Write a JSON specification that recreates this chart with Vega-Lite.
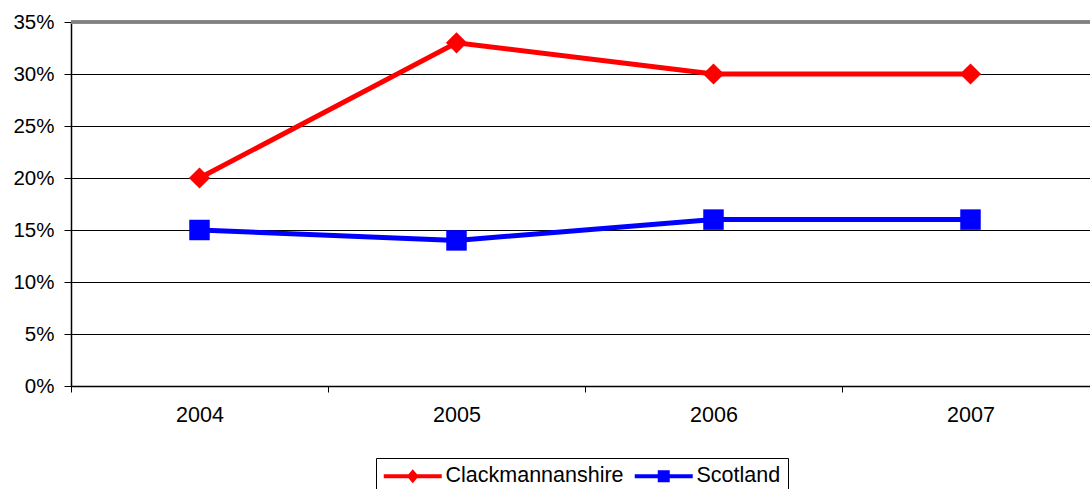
{
  "$schema": "https://vega.github.io/schema/vega-lite/v6.json",
  "autosize": {"type": "none"},
  "padding": {"left": 71, "top": 22, "right": 0, "bottom": 103},
  "width": 1028,
  "height": 364,
  "background": "white",
  "view": {"stroke": null},
  "config": {
    "font": "Liberation Sans",
    "axis": {"labelFont": "Liberation Sans", "labelColor": "black"}
  },
  "data": {
    "values": [
      {"year": "2004", "series": "Clackmannanshire", "value": 0.20},
      {"year": "2005", "series": "Clackmannanshire", "value": 0.33},
      {"year": "2006", "series": "Clackmannanshire", "value": 0.30},
      {"year": "2007", "series": "Clackmannanshire", "value": 0.30},
      {"year": "2004", "series": "Scotland", "value": 0.15},
      {"year": "2005", "series": "Scotland", "value": 0.14},
      {"year": "2006", "series": "Scotland", "value": 0.16},
      {"year": "2007", "series": "Scotland", "value": 0.16}
    ]
  },
  "encoding": {
    "x": {
      "field": "year", "type": "ordinal",
      "scale": {"type": "band", "paddingInner": 0, "paddingOuter": 0},
      "axis": {
        "title": null, "labelAngle": 0, "tickBand": "extent",
        "grid": false, "domainColor": "black", "domainWidth": 1.5,
        "tickColor": "black", "tickSize": 6, "tickWidth": 1,
        "labelPadding": 12, "labelFontSize": 21.5
      }
    },
    "y": {
      "field": "value", "type": "quantitative",
      "scale": {"domain": [0, 0.35], "nice": false},
      "axis": {
        "title": null, "format": ".0%", "values": [0, 0.05, 0.1, 0.15, 0.2, 0.25, 0.3, 0.35],
        "grid": true, "gridColor": "black", "gridWidth": 1, "gridOpacity": 1,
        "domainColor": "black", "domainWidth": 1.5,
        "tickColor": "black", "tickSize": 7, "labelPadding": 10, "labelFontSize": 20.5
      }
    }
  },
  "layer": [
    {
      "mark": {"type": "rule", "color": "#808080", "strokeWidth": 2.5},
      "encoding": {"y": {"datum": 0.35}, "x": null}
    },
    {
      "mark": {"type": "line", "strokeWidth": 5},
      "encoding": {
        "color": {
          "field": "series", "type": "nominal",
          "scale": {"domain": ["Clackmannanshire", "Scotland"], "range": ["#FF0000", "#0000FF"]},
          "legend": {
            "title": null, "orient": "none", "direction": "horizontal",
            "legendX": 305, "legendY": 436,
            "strokeColor": "black", "fillColor": "white", "padding": 7,
            "labelFont": "Liberation Sans", "labelFontSize": 21.5, "labelColor": "black",
            "labelLimit": 0, "labelOffset": 22, "columnPadding": 10,
            "symbolSize": 400, "symbolOffset": 19,
            "symbolType": "M-2.9,-0.2H2.9V0.2H-2.9Z",
            "symbolStrokeWidth": 0,
            "encode": {
              "symbols": {
                "update": {
                  "shape": {"signal": "datum.value === 'Scotland' ? 'M-2.9,-0.2H2.9V0.2H-2.9Z M-0.6,-0.6H0.6V0.6H-0.6Z' : 'M-2.9,-0.2H2.9V0.2H-2.9Z M0,-0.7L0.6,0L0,0.7L-0.6,0Z'"},
                  "fill": {"signal": "datum.value === 'Scotland' ? '#0000FF' : '#FF0000'"},
                  "strokeWidth": {"value": 0},
                  "opacity": {"value": 1}
                }
              }
            }
          }
        }
      }
    },
    {
      "transform": [{"filter": "datum.series === 'Clackmannanshire'"}],
      "mark": {"type": "point", "shape": "diamond", "filled": true, "opacity": 1, "size": 450, "color": "#FF0000"}
    },
    {
      "transform": [{"filter": "datum.series === 'Scotland'"}],
      "mark": {"type": "point", "shape": "square", "filled": true, "opacity": 1, "size": 420, "color": "#0000FF"}
    }
  ]
}
